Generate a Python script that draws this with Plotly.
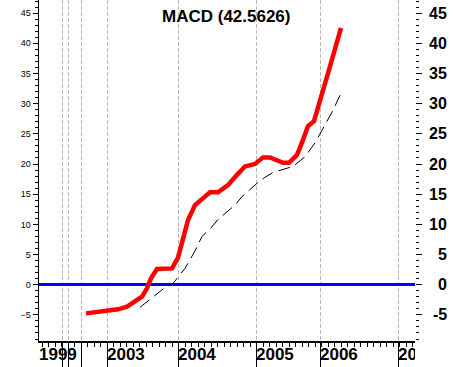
import numpy as np
import plotly.graph_objects as go

# ---- data (x = bar index along the compressed time axis) ----
macd_x = [47, 61, 71, 79, 88, 96, 103, 108, 112, 118, 133, 139, 144, 149, 156, 163,
          171, 179, 189, 198, 206, 216, 224, 231, 244, 250, 258, 264, 269, 275, 281,
          291, 302]
macd_y = [-4.75, -4.47, -4.36, -4.08, -3.65, -2.82, -1.99, -0.6, 1.06, 2.6, 2.7, 4.5,
          8.0, 10.7, 13.2, 14.3, 15.3, 15.3, 16.5, 18.2, 19.6, 20.0, 21.1, 21.1, 20.2,
          20.2, 21.5, 24.0, 26.3, 27.1, 30.3, 36.2, 42.5626]

signal_x = [101, 118, 125, 134, 139, 146, 156, 163, 173, 179, 196, 203, 218, 226,
            234, 244, 254, 266, 276, 286, 294, 301]
signal_y = [-3.75, -1.6, -0.6, 0.2, 1.3, 2.7, 5.6, 8.0, 9.6, 10.8, 13.2, 14.6, 16.8,
            17.8, 18.6, 19.1, 19.6, 21.2, 23.5, 26.5, 28.9, 31.4]

year_ticks = [23, 29, 42, 68, 139, 217, 281, 359]
label_x = [0, 68, 139, 217, 281, 359]
label_text = ["1999", "2003", "2004", "2005", "2006", "2007"]
y_ticks = [-5, 0, 5, 10, 15, 20, 25, 30, 35, 40, 45]
title_text = "MACD (42.5626)"

W, H = 453, 367
L, R = 39, 38
LABEL_H = 26
YR = [-9.33, 47.18]
XR = [0, 376]
FONT = "Liberation Sans, Arial, sans-serif"

fig = go.Figure()

fig.add_trace(go.Scatter(x=signal_x, y=signal_y, mode="lines",
                         line=dict(color="black", width=1, dash="12px,6px"),
                         xaxis="x", yaxis="y", hoverinfo="skip"))
fig.add_trace(go.Scatter(x=macd_x, y=macd_y, mode="lines",
                         line=dict(color="#ff0000", width=4.5),
                         xaxis="x", yaxis="y", hoverinfo="skip"))
# invisible trace so the right axis is drawn
fig.add_trace(go.Scatter(x=[None], y=[None], mode="lines", xaxis="x", yaxis="y2",
                         hoverinfo="skip"))
# bottom year labels, clipped at the plot edge
fig.add_trace(go.Scatter(x=label_x, y=[0.45] * len(label_x), mode="text",
                         text=label_text, textposition="middle right",
                         textfont=dict(family=FONT, size=17, color="black", weight="bold"),
                         cliponaxis=True, xaxis="x2", yaxis="y3", hoverinfo="skip"))

minor_x = [v for v in np.arange(68 - 6.5 * 10, 376, 6.5) if v > 0]

fig.update_layout(
    width=W, height=H,
    margin=dict(l=L, r=R, t=0, b=0, pad=0),
    paper_bgcolor="white", plot_bgcolor="white",
    showlegend=False,
    xaxis=dict(domain=[0, 1], range=XR, anchor="y",
               tickmode="array", tickvals=year_ticks, showticklabels=False,
               ticks="outside", ticklen=LABEL_H, tickwidth=1, tickcolor="black",
               showgrid=True, gridcolor="#b8b8b8", gridwidth=1, griddash="4px,2px",
               showline=True, linecolor="black", linewidth=1.5, zeroline=False,
               minor=dict(tickmode="array", tickvals=minor_x, ticks="outside",
                          ticklen=4, tickcolor="black", tickwidth=1, showgrid=False)),
    yaxis=dict(domain=[LABEL_H / H, 1], range=YR, anchor="x",
               tickmode="array", tickvals=y_ticks,
               ticks="outside", ticklen=5, tickcolor="black", tickwidth=1,
               tickfont=dict(family=FONT, size=9, color="black"),
               showgrid=False, showline=True, linecolor="black", linewidth=1.5,
               zeroline=True, zerolinecolor="#0000ff", zerolinewidth=3,
               minor=dict(dtick=1, tick0=0, ticks="outside", ticklen=3,
                          tickcolor="black", showgrid=False)),
    yaxis2=dict(overlaying="y", side="right", anchor="x", range=YR,
                tickmode="array", tickvals=y_ticks, showticklabels=False,
                ticks="outside", ticklen=6, tickcolor="black", tickwidth=1,
                showgrid=False, showline=False, zeroline=False,
                minor=dict(dtick=1, tick0=0, ticks="outside", ticklen=3,
                           tickcolor="black", showgrid=False)),
    xaxis2=dict(domain=[0, 1], matches="x", anchor="y3", visible=False),
    yaxis3=dict(domain=[0, LABEL_H / H], range=[0, 1], anchor="x2", visible=False),
)

annotations = [dict(text=title_text, xref="paper", yref="paper",
                    x=(226 - L) / (W - L - R), y=1 - 15 / (H - LABEL_H),
                    xanchor="center", yanchor="middle", showarrow=False,
                    font=dict(family=FONT, size=17, color="black", weight="bold"))]
for v in y_ticks:
    annotations.append(dict(text=str(v), xref="paper", yref="y",
                            x=(449 - L) / (W - L - R), y=v,
                            xanchor="right", yanchor="middle", showarrow=False,
                            font=dict(family=FONT, size=16, color="black", weight="bold")))
fig.update_layout(annotations=annotations)

fig.write_html("out.html", config={"displayModeBar": False, "staticPlot": True},
               post_script="document.body.style.margin='0';document.body.style.overflow='hidden';")
